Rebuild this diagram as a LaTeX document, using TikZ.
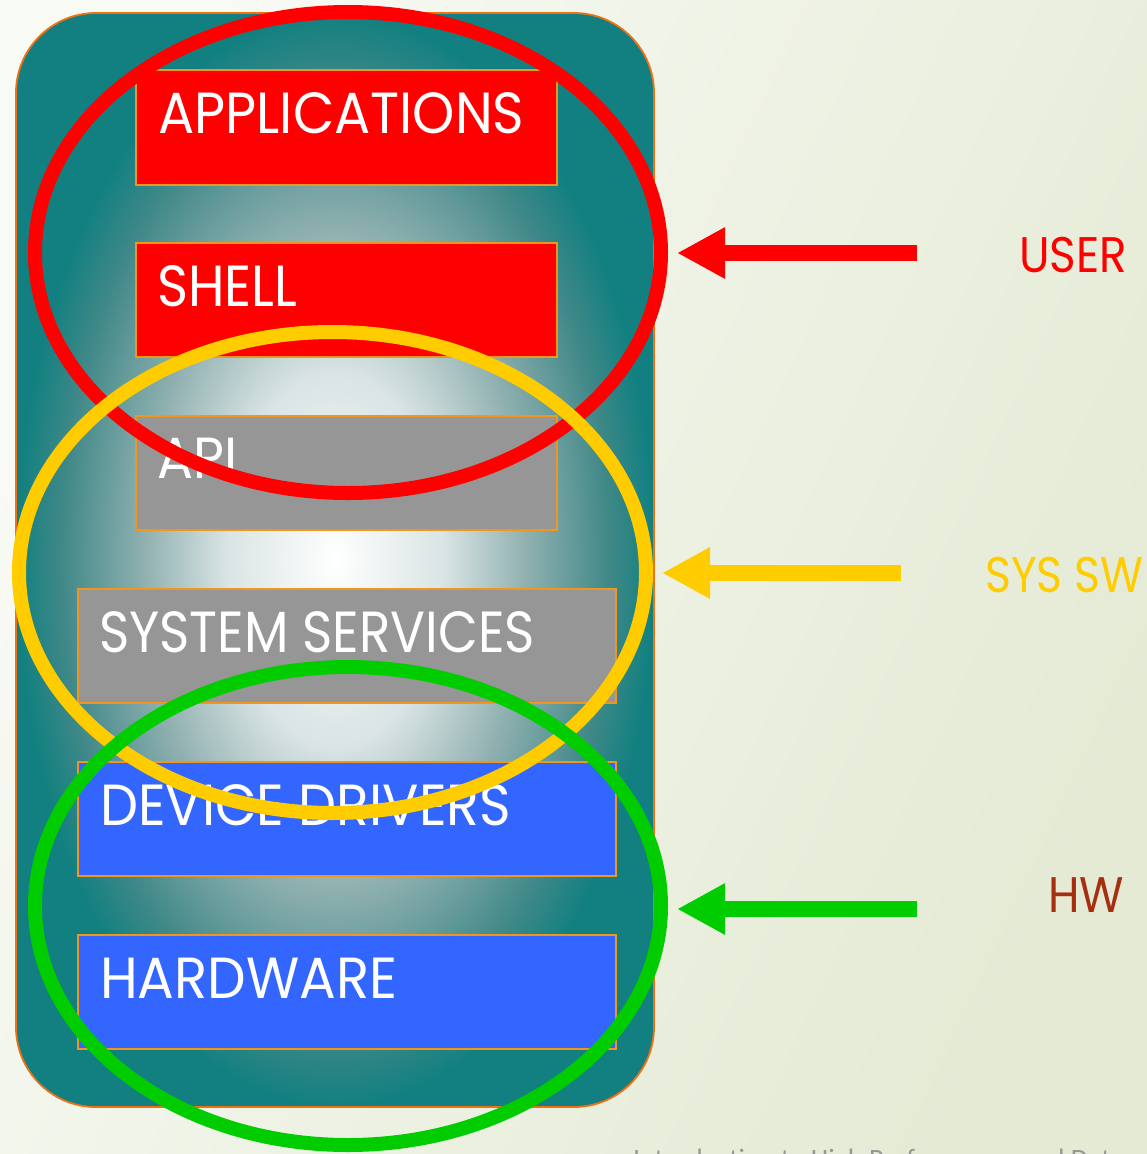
\documentclass[tikz,border=0pt]{standalone}
\usepackage{fontspec}
\setmainfont{Poppins}
\newfontfamily\footfont{Carlito}
\usetikzlibrary{arrows.meta,shapes.geometric}
\definecolor{bgA}{RGB}{248,250,244}
\definecolor{bgB}{RGB}{228,234,212}
\definecolor{tealE}{RGB}{18,128,128}
\definecolor{glowA}{RGB}{218,228,228}
\definecolor{glowB}{RGB}{144,176,176}
\definecolor{glowC}{RGB}{64,136,136}
\definecolor{frameOr}{RGB}{240,112,20}
\definecolor{boxOr}{RGB}{240,150,30}
\definecolor{appRed}{RGB}{255,0,0}
\definecolor{apiGray}{RGB}{150,150,150}
\definecolor{drvBlue}{RGB}{51,102,255}
\definecolor{sysYel}{RGB}{255,204,0}
\definecolor{hwGreen}{RGB}{0,204,0}
\definecolor{hwBrown}{RGB}{165,48,15}
\definecolor{footGray}{RGB}{150,150,150}
\pgfdeclareradialshading{tealglow}{\pgfpoint{0bp}{0bp}}{color(0bp)=(white); color(8.5bp)=(glowA); color(15bp)=(glowB); color(21.5bp)=(glowC); color(25bp)=(tealE); color(50bp)=(tealE)}
\begin{document}
\begin{tikzpicture}[x=1pt,y=-1pt,
  layerbox/.style={draw=boxOr, line width=1.8pt},
  boxtext/.style={anchor=base west, inner sep=0pt, text=white, font=\fontsize{58}{60}\selectfont},
  ring/.style={ellipse, line width=14pt, inner sep=0pt},
  bigarrow/.style={line width=16pt, -{Triangle[length=48pt,width=48pt]}},
  sidelabel/.style={anchor=base west, inner sep=0pt, font=\fontsize{50}{52}\selectfont}]
\useasboundingbox (0,0) rectangle (1147,1154);
% background
\shade[shading=axis, left color=bgA, right color=bgB, shading angle=65] (0,0) rectangle (1147,1154);
% frame
\shade[shading=tealglow, rounded corners=80pt] (16,13) rectangle (654,1107);
\draw[draw=frameOr, line width=1.8pt, rounded corners=80pt] (16,13) rectangle (654,1107);
% layers
\fill[appRed, layerbox] (136,70) rectangle (557,185);
\fill[appRed, layerbox] (136,243) rectangle (557,357);
\fill[apiGray, layerbox] (136,416) rectangle (557,530);
\fill[apiGray, layerbox] (78,589) rectangle (616,703);
\fill[drvBlue, layerbox] (78,762) rectangle (616,876);
\fill[drvBlue, layerbox] (78,935) rectangle (616,1049);
\node[boxtext] (tapp) at (158,133) {\scalebox{0.926}[1]{APPLICATIONS}};
\node[boxtext] (tshell) at (157,306) {\scalebox{0.91}[1]{SHELL}};
\node[boxtext] (tapi) at (157,478) {\scalebox{0.92}[1]{API}};
\node[boxtext] (tsys) at (99,652) {\scalebox{0.89}[1]{SYSTEM SERVICES}};
\node[boxtext] (tdrv) at (100,825) {\scalebox{0.927}[1]{DEVICE DRIVERS}};
\node[boxtext] (thw) at (100,998) {\scalebox{0.94}[1]{HARDWARE}};
% rings
\node[ring, draw=appRed, minimum width=626pt, minimum height=481pt] (userring) at (348,252.5) {};
\node[ring, draw=sysYel, minimum width=627pt, minimum height=481pt] (sysring) at (332.5,572.5) {};
\node[ring, draw=hwGreen, minimum width=626pt, minimum height=478pt] (hwring) at (348,906) {};
% arrows
\coordinate (ustart) at (917,253);
\coordinate (utip) at (677,253);
\coordinate (sstart) at (901,573);
\coordinate (stip) at (662,573);
\coordinate (hstart) at (917,909);
\coordinate (htip) at (677,909);
\draw[bigarrow, draw=appRed, fill=appRed] (ustart) -- (utip);
\draw[bigarrow, draw=sysYel, fill=sysYel] (sstart) -- (stip);
\draw[bigarrow, draw=hwGreen, fill=hwGreen] (hstart) -- (htip);
% labels
\node[sidelabel, text=appRed] (luser) at (1019,272) {\scalebox{0.905}[1]{USER}};
\node[sidelabel, text=sysYel] (lsys) at (985,592) {\scalebox{0.88}[1]{SYS SW}};
\node[sidelabel, text=hwBrown] (lhw) at (1048,912) {\scalebox{0.91}[1]{HW}};
% footer (cut off by the page edge, as in the reference)
\begin{scope}
\clip (0,0) rectangle (1147,1154);
\node[anchor=base west, inner sep=0pt, text=footGray, font=\footfont\fontsize{28}{30}\selectfont] (foot) at (633,1168) {Introduction to High Performance and Data};
\end{scope}
\end{tikzpicture}
\end{document}
